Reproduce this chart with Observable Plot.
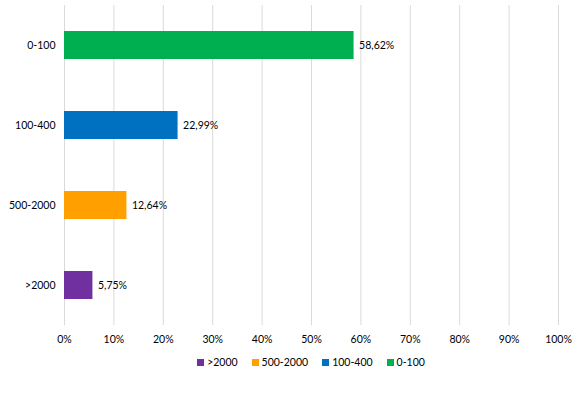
<!DOCTYPE html>
<html>
<head>
<meta charset="utf-8">
<script src="https://cdn.jsdelivr.net/npm/d3@7"></script>
<script src="https://cdn.jsdelivr.net/npm/@observablehq/plot@0.6"></script>
<style>
  body { margin: 0; background: #fff; font-family: Lato, "Open Sans", sans-serif; }
  #chart { width: 582px; }
  .legend { display: flex; justify-content: center; gap: 14px; font-size: 10.5px; color: #000; margin-top: 6px; margin-left: 40px; }
  .legend span { display: inline-flex; align-items: center; }
  .legend i { display: inline-block; width: 7px; height: 7px; margin-right: 3px; }
</style>
</head>
<body>
<div id="chart"></div>
<script>
const categories = ["0-100", "100-400", "500-2000", ">2000"];
const values = [58.62, 22.99, 12.64, 5.75];
const labels = ["58,62%", "22,99%", "12,64%", "5,75%"];
const colors = ["#00B050", "#0070C0", "#FF9F00", "#7030A0"];
const legendOrder = [">2000", "500-2000", "100-400", "0-100"];
const xTicks = [0, 10, 20, 30, 40, 50, 60, 70, 80, 90, 100];

const data = categories.map((c, i) => ({cat: c, value: values[i], label: labels[i], color: colors[i]}));

const plot = Plot.plot({
  width: 582,
  height: 350,
  marginLeft: 64,
  marginRight: 24,
  marginTop: 5,
  marginBottom: 25,
  style: {fontFamily: "Lato, 'Open Sans', sans-serif", fontSize: "10.5px", color: "#000"},
  x: {domain: [0, 100], ticks: xTicks, tickFormat: d => d + "%", tickSize: 0, tickPadding: 10, label: null},
  y: {domain: categories, paddingInner: 0.65, paddingOuter: 0.325, tickSize: 0, tickPadding: 9, label: null},
  marks: [
    Plot.gridX(xTicks, {stroke: "#d9d9d9", strokeOpacity: 1}),
    Plot.barX(data, {y: "cat", x: "value", fill: "color"}),
    Plot.text(data, {y: "cat", x: "value", text: "label", textAnchor: "start", dx: 5, fill: "#000", fontSize: 10.5})
  ]
});
document.getElementById("chart").appendChild(plot);

const legend = document.createElement("div");
legend.className = "legend";
legendOrder.forEach(name => {
  const i = categories.indexOf(name);
  const s = document.createElement("span");
  s.innerHTML = `<i style="background:${colors[i]}"></i>${name}`;
  legend.appendChild(s);
});
document.getElementById("chart").appendChild(legend);
</script>
</body>
</html>
